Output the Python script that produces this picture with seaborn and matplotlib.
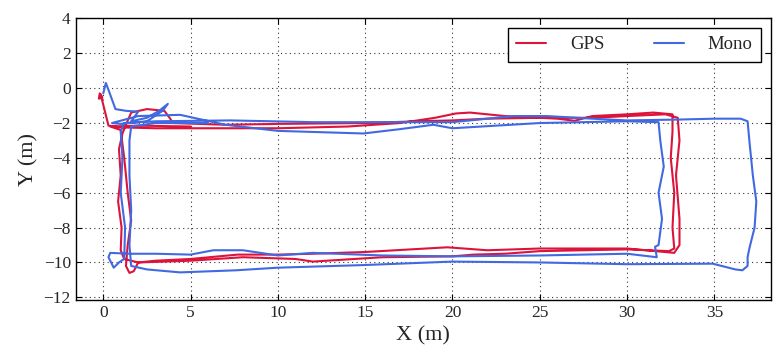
import pandas as pd
import matplotlib
matplotlib.use("Agg")
import matplotlib.pyplot as plt
import seaborn as sns

# GPS track (x, y in metres)
gps_x = [-0.2, -0.25, -0.05, -0.15, 0.3, 1.0, 3.0, 6.0, 10.0, 14.0, 17.0, 19.0, 20.2, 21.0,
         23.0, 26.0, 27.0, 28.0, 30.0, 31.5, 32.6, 32.6, 32.5, 32.7, 32.6, 32.7, 32.4,
         30.0, 25.0, 23.0, 21.2, 20.0, 16.0, 12.0, 11.0, 8.0, 5.0, 2.0, 1.2,
         1.0, 1.05, 0.85, 1.0, 0.9, 1.1, 1.3, 1.6, 2.5, 3.5, 3.8, 4.0, 7.0, 10.0, 15.0,
         18.0, 20.0, 22.0, 25.0, 28.0, 30.0, 32.2, 32.9, 33.0, 32.8, 33.0, 33.0, 32.7,
         30.0, 25.0, 22.0, 19.7, 15.0, 12.0, 10.0, 7.7, 5.0, 3.0, 2.0, 1.75, 1.5, 1.3,
         1.4, 1.6, 1.4, 1.2, 1.0, 0.4, 2.0, 5.0]
gps_y = [-0.3, -0.6, -0.55, -0.35, -2.15, -2.25, -2.3, -2.3, -2.3, -2.2, -2.0, -1.7, -1.45, -1.4,
         -1.6, -1.75, -1.87, -1.6, -1.5, -1.4, -1.5, -2.5, -4.0, -6.0, -8.0, -9.2, -9.35,
         -9.25, -9.35, -9.5, -9.55, -9.65, -9.7, -9.95, -9.8, -9.7, -9.9, -10.0, -9.8,
         -9.3, -8.0, -6.5, -5.0, -3.5, -2.6, -2.1, -1.4, -1.2, -1.3, -1.7, -2.0, -2.1, -2.05, -2.0,
         -1.9, -1.85, -1.75, -1.7, -1.7, -1.6, -1.5, -1.7, -3.0, -5.0, -7.5, -9.0, -9.45,
         -9.2, -9.2, -9.3, -9.13, -9.4, -9.5, -9.55, -9.55, -9.8, -9.9, -10.0, -10.5, -10.6, -10.2,
         -9.0, -7.6, -6.0, -4.0, -2.4, -2.2, -2.15, -2.2]

# monocular visual odometry track
mono_x = [0.0, 0.15, 0.3, 0.7, 1.3, 2.0, 1.6, 2.5, 3.2, 3.7, 3.4, 2.5, 1.0, 0.5, 2.0,
          4.4, 7.0, 10.0, 14.9, 17.0, 18.9, 20.0, 25.0, 30.0, 31.8,
          31.9, 32.1, 31.8, 32.0, 31.8, 31.6, 31.7,
          30.0, 25.0, 20.0, 16.0, 12.0, 10.0, 8.0, 6.3, 5.0, 3.0, 1.5, 0.4, 0.3, 0.6, 0.9,
          1.2, 1.25, 1.0, 1.1, 1.0, 1.2, 3.0, 7.3, 12.0, 20.0, 23.5, 25.4, 28.0, 30.0,
          33.0, 35.0, 36.5, 36.9, 37.0, 37.2, 37.4, 37.3, 37.0, 36.9, 36.9, 36.6, 36.2,
          34.9, 30.0, 25.0, 20.0, 14.9, 10.0, 7.6, 4.4, 2.5, 1.6,
          1.5, 1.6, 1.5, 1.5, 1.6, 3.0, 6.0]
mono_y = [-0.3, 0.3, -0.1, -1.2, -1.3, -1.35, -1.9, -1.7, -1.3, -0.9, -1.3, -1.9, -2.05, -2.0, -1.6,
          -1.53, -2.1, -2.45, -2.6, -2.35, -2.1, -2.3, -2.0, -1.9, -1.95,
          -3.0, -4.5, -6.0, -7.5, -9.0, -9.1, -9.7,
          -9.5, -9.6, -9.65, -9.6, -9.45, -9.6, -9.3, -9.3, -9.55, -9.5, -9.5, -9.45, -9.7, -10.3, -10.0,
          -9.8, -8.0, -6.0, -4.0, -2.5, -2.0, -1.9, -1.85, -1.95, -1.95, -1.6, -1.6, -1.75, -1.85,
          -1.8, -1.75, -1.75, -1.9, -3.0, -5.0, -6.5, -8.0, -9.2, -9.7, -10.2, -10.45, -10.4,
          -10.07, -10.1, -10.0, -9.95, -10.15, -10.3, -10.45, -10.57, -10.4, -10.2,
          -9.0, -7.0, -5.0, -3.0, -2.2, -2.0, -2.0]

gps = pd.DataFrame({"x": gps_x, "y": gps_y})
mono = pd.DataFrame({"x": mono_x, "y": mono_y})

sns.set_style("ticks")
plt.rcParams["font.family"] = ["Liberation Serif", "DejaVu Serif"]
plt.rcParams["xtick.direction"] = "in"
plt.rcParams["ytick.direction"] = "in"
plt.rcParams["xtick.top"] = True
plt.rcParams["ytick.right"] = True

fig = plt.figure(figsize=(7.8, 3.62), dpi=100)
ax = fig.add_axes([0.097, 0.171, 0.891, 0.778])

sns.lineplot(data=gps, x="x", y="y", sort=False, estimator=None, color="crimson",
             lw=1.5, label="GPS", ax=ax)
sns.lineplot(data=mono, x="x", y="y", sort=False, estimator=None, color="royalblue",
             lw=1.5, label="Mono", ax=ax)

ax.set_xlim(-1.58, 38.22)
ax.set_ylim(-12.16, 4.0)
ax.set_xticks(range(0, 36, 5))
ax.set_yticks(range(-12, 5, 2))
ax.tick_params(labelsize=12.5, length=4, width=0.8, color="black")
ax.grid(True, linestyle=(0, (1, 3)), color="#333333", linewidth=0.8)
for s in ax.spines.values():
    s.set_color("black")
    s.set_linewidth(1.0)

ax.set_xlabel("X (m)", fontsize=16)
ax.set_ylabel("Y (m)", fontsize=16)

leg = ax.legend(loc="upper right", ncol=2, fontsize=13.5, frameon=True, fancybox=False,
                edgecolor="black", framealpha=1, handlelength=1.6, handletextpad=1.3,
                columnspacing=2.6, borderpad=0.45)
leg.get_frame().set_linewidth(1.0)

fig.savefig("out.png", dpi=100)
